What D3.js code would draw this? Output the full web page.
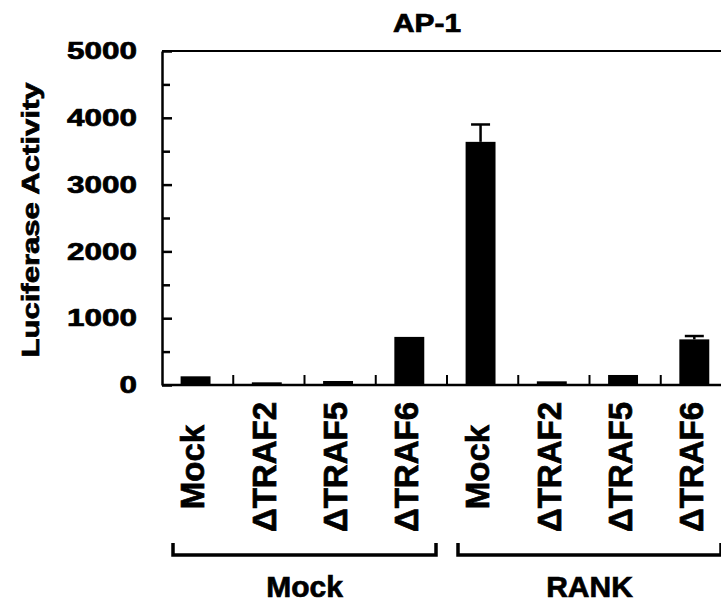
<!DOCTYPE html>
<html><head><meta charset="utf-8">
<script src="https://cdn.jsdelivr.net/npm/d3@7"></script>
<style>
body{margin:0;background:#fff}
text{font-family:"Liberation Sans",Arial,Helvetica,sans-serif;font-weight:bold;fill:#000;stroke:#000;stroke-width:0.7px}
</style>
</head><body>
<svg id="chart" width="721" height="602"></svg>
<script>
// ---- data ----
const categories = ["Mock","ΔTRAF2","ΔTRAF5","ΔTRAF6","Mock","ΔTRAF2","ΔTRAF5","ΔTRAF6"];
const groups = ["Mock","Mock","Mock","Mock","RANK","RANK","RANK","RANK"];
const groupLabels = ["Mock","RANK"];
const values = [130, 40, 60, 720, 3640, 55, 150, 683];
const errors = [0, 0, 0, 0, 260, 0, 0, 50];
const yTicks = [0, 1000, 2000, 3000, 4000, 5000];
const yMinorTicks = [500, 1500, 2500, 3500, 4500];
const titleText = "AP-1";
const yTitleText = "Luciferase Activity";

// ---- layout ----
const svg = d3.select("#chart");
const plotL = 162, plotR = 732, plotT = 51, plotB = 385;

const x = d3.scaleBand().domain(d3.range(categories.length))
  .range([plotL, plotR]).paddingInner(0.58).paddingOuter(0.29).align(0.45);
const y = d3.scaleLinear().domain([0, 5000]).range([plotB, plotT]);

// top frame line
svg.append("line").attr("x1", plotL).attr("x2", plotR).attr("y1", y(5000)).attr("y2", y(5000))
  .attr("stroke", "#000").attr("stroke-width", 2);

// y axis major
const yAxis = d3.axisLeft(y).tickValues(yTicks).tickSize(-10).tickSizeOuter(0).tickPadding(25)
  .tickFormat(d3.format("d"));
const gy = svg.append("g").attr("transform", `translate(${plotL},0)`).call(yAxis);
gy.attr("font-family", null).attr("font-size", null);
gy.select(".domain").attr("stroke-width", 2.5);
gy.selectAll(".tick line").attr("stroke-width", 2.5);
gy.selectAll(".tick text")
  .style("font-size", "24px")
  .attr("textLength", d => String(d).length * 17.5)
  .attr("lengthAdjust", "spacingAndGlyphs");
// y axis minor
const yMinor = d3.axisLeft(y).tickValues(yMinorTicks).tickSize(-8).tickSizeOuter(0).tickFormat("");
const gym = svg.append("g").attr("transform", `translate(${plotL},0)`).call(yMinor);
gym.select(".domain").remove();
gym.selectAll(".tick line").attr("stroke-width", 2.5);

// x baseline
svg.append("line").attr("x1", plotL).attr("x2", plotR).attr("y1", y(0)).attr("y2", y(0))
  .attr("stroke", "#000").attr("stroke-width", 2.5);
// category boundary ticks (pointing up)
const bounds = d3.range(1, categories.length).map(k => x.range()[0] + k * x.step());
svg.append("g").selectAll("line").data(bounds).join("line")
  .attr("x1", d => d).attr("x2", d => d)
  .attr("y1", y(0)).attr("y2", y(0) - 10)
  .attr("stroke", "#000").attr("stroke-width", 2);

// bars
svg.append("g").selectAll("rect").data(values).join("rect")
  .attr("x", (d, i) => x(i)).attr("width", x.bandwidth())
  .attr("y", d => y(d)).attr("height", d => y(0) - y(d))
  .attr("fill", "#000");

// error bars
const eb = svg.append("g").selectAll("g")
  .data(values.map((v, i) => ({v, e: errors[i], i})).filter(d => d.e > 0))
  .join("g");
eb.append("line")
  .attr("x1", d => x(d.i) + x.bandwidth() / 2).attr("x2", d => x(d.i) + x.bandwidth() / 2)
  .attr("y1", d => y(d.v)).attr("y2", d => y(d.v + d.e))
  .attr("stroke", "#000").attr("stroke-width", 2.5);
eb.append("line")
  .attr("x1", d => x(d.i) + x.bandwidth() / 2 - 9.5).attr("x2", d => x(d.i) + x.bandwidth() / 2 + 9.5)
  .attr("y1", d => y(d.v + d.e)).attr("y2", d => y(d.v + d.e))
  .attr("stroke", "#000").attr("stroke-width", 2.5);

// category labels (rotated)
svg.append("g").selectAll("text").data(categories).join("text")
  .attr("transform", (d, i) => `translate(${x(i) + x.bandwidth() / 2 - 3},467) rotate(-90)`)
  .attr("text-anchor", "middle").attr("dy", "0.36em")
  .style("font-size", "33px")
  .text(d => d);

// group brackets
const inset = 11, bracketY = 555, bracketH = 12;
const grp = groupLabels.map(g => {
  const idx = groups.map((gg, i) => gg === g ? i : -1).filter(i => i >= 0);
  const x0 = x.range()[0] + idx[0] * x.step() + inset;
  const x1 = x.range()[0] + (idx[idx.length - 1] + 1) * x.step() - inset;
  return {g, x0, x1};
});
svg.append("g").selectAll("path").data(grp).join("path")
  .attr("d", d => `M${d.x0},${bracketY - bracketH}V${bracketY}H${d.x1}V${bracketY - bracketH}`)
  .attr("fill", "none").attr("stroke", "#000").attr("stroke-width", 3.5);
svg.append("g").selectAll("text").data(grp).join("text")
  .attr("x", d => (d.x0 + d.x1) / 2).attr("y", 597)
  .attr("text-anchor", "middle").style("font-size", "30px")
  .text(d => d.g);

// title
svg.append("text").attr("x", 427).attr("y", 32).attr("text-anchor", "middle")
  .style("font-size", "25px").attr("textLength", 68).attr("lengthAdjust", "spacingAndGlyphs")
  .text(titleText);

// y title
svg.append("text").attr("transform", "translate(39,220) rotate(-90)")
  .attr("text-anchor", "middle").style("font-size", "24px")
  .attr("textLength", 275).attr("lengthAdjust", "spacingAndGlyphs")
  .text(yTitleText);
</script>
</body></html>
